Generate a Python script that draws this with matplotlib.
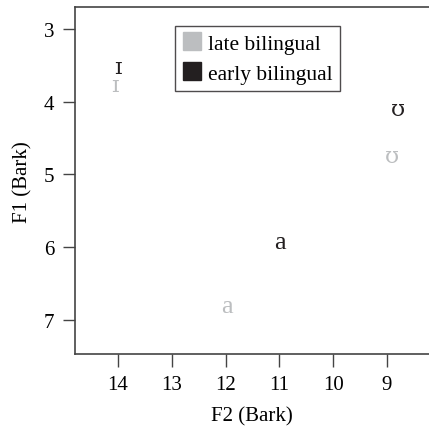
import matplotlib
matplotlib.use('Agg')
import matplotlib.pyplot as plt
from matplotlib.lines import Line2D

plt.rcParams['font.family'] = ['Liberation Serif', 'DejaVu Serif']

# vowel means (F2, F1 in Bark)
vowels = ['ɪ', 'ʊ', 'a']
late_f2 = [14.07, 8.91, 11.97]
late_f1 = [3.77, 4.75, 6.81]
early_f2 = [14.0, 8.80, 11.0]
early_f1 = [3.52, 4.10, 5.93]

groups = ['late bilingual', 'early bilingual']
colors = ['#bcbec0', '#231f20']

x_ticks = [14, 13, 12, 11, 10, 9]
y_ticks = [3, 4, 5, 6, 7]

fig = plt.figure(figsize=(4.29, 4.31), dpi=100)
ax = fig.add_axes([0.175, 0.176, 0.825, 0.805])

for f2s, f1s, c in [(late_f2, late_f1, colors[0]), (early_f2, early_f1, colors[1])]:
    for v, x, y in zip(vowels, f2s, f1s):
        if v == 'a':
            ax.text(x, y, v, color=c, fontsize=19, ha='center', va='center')
        else:
            # IPA glyphs: Liberation's are tiny, DejaVu is closer
            ax.text(x, y, v, color=c, fontsize=16.5, ha='center', va='center',
                    family=['DejaVu Serif'])

ax.set_xlim(14.8, 8.22)
ax.set_ylim(7.47, 2.70)
ax.set_xticks(x_ticks)
ax.set_yticks(y_ticks)
ax.tick_params(direction='out', length=9, width=1, color='#444444', labelsize=15, pad=6)

for s in ['left', 'top', 'bottom']:
    ax.spines[s].set_color('#444444')
    ax.spines[s].set_linewidth(1.2)
ax.spines['right'].set_visible(False)

ax.set_xlabel('F2 (Bark)', fontsize=15, labelpad=9)
ax.set_ylabel('F1 (Bark)', fontsize=15, labelpad=8)

handles = [Line2D([], [], marker='s', color=c, linestyle='', markersize=13) for c in colors]
leg = ax.legend(handles, groups, loc='upper left', bbox_to_anchor=(0.282, 0.945),
                borderaxespad=0, fontsize=15.5, frameon=True, fancybox=False,
                handletextpad=0.3, handlelength=0.9, borderpad=0.35, labelspacing=0.45)
leg.get_frame().set_edgecolor('#231f20')
leg.get_frame().set_linewidth(1.0)

fig.savefig('out.png', dpi=100)
